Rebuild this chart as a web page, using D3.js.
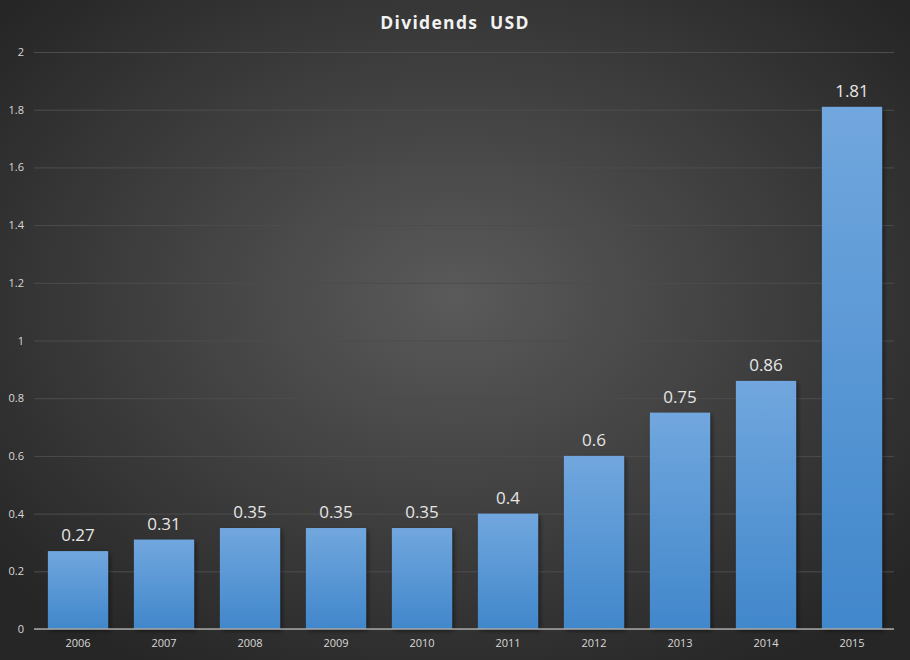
<!DOCTYPE html>
<html><head><meta charset="utf-8">
<script src="https://cdn.jsdelivr.net/npm/d3@7"></script>
<style>body{margin:0;background:#262626;}svg{display:block;}</style>
</head><body>
<script>
const years = ["2006","2007","2008","2009","2010","2011","2012","2013","2014","2015"];
const dividends = [0.27,0.31,0.35,0.35,0.35,0.4,0.6,0.75,0.86,1.81];
const yTicks = [0,0.2,0.4,0.6,0.8,1,1.2,1.4,1.6,1.8,2];

const W=910,H=660;
const svg=d3.select("body").append("svg").attr("width",W).attr("height",H);
const defs=svg.append("defs");
const rg=defs.append("radialGradient").attr("id","bg").attr("cx","50%").attr("cy","45%").attr("r","65%");
rg.append("stop").attr("offset","0%").attr("stop-color","#5a5a5a");
rg.append("stop").attr("offset","100%").attr("stop-color","#262626");
const lg=defs.append("linearGradient").attr("id","bar").attr("x1",0).attr("y1",0).attr("x2",0).attr("y2",1);
lg.append("stop").attr("offset","0%").attr("stop-color","#71a7de");
lg.append("stop").attr("offset","100%").attr("stop-color","#4187cb");
const f=defs.append("filter").attr("id","sh").attr("x","-20%").attr("y","-20%").attr("width","140%").attr("height","140%");
f.append("feDropShadow").attr("dx",2).attr("dy",2).attr("stdDeviation",2).attr("flood-color","#000").attr("flood-opacity",0.45);

svg.append("rect").attr("width",W).attr("height",H).attr("fill","url(#bg)");

const x=d3.scaleBand().domain(years).range([35,895]).paddingInner(0.3).paddingOuter(0.15);
const y=d3.scaleLinear().domain([0,2]).range([629,52]);

svg.append("text").attr("x",455).attr("y",29).attr("text-anchor","middle")
  .style("white-space","pre")
  .attr("font-family","Open Sans, sans-serif").attr("font-weight","bold").attr("font-size",17.5)
  .attr("letter-spacing","1.3").attr("fill","#f2f2f2").text("Dividends  USD");

const yAxis=svg.append("g").attr("transform","translate(34,0)")
  .call(d3.axisLeft(y).tickValues(yTicks).tickSize(-860).tickFormat(d=>String(+d.toFixed(1))).tickPadding(10));
yAxis.select(".domain").remove();
yAxis.selectAll(".tick line").attr("stroke","#4d4d4d").attr("stroke-width",1);
yAxis.selectAll(".tick text").attr("fill","#d9d9d9").attr("font-family","Open Sans, sans-serif").attr("font-size",11);

svg.append("g").selectAll("rect").data(years).join("rect")
  .attr("x",d=>x(d)).attr("width",x.bandwidth())
  .attr("y",(d,i)=>y(dividends[i])).attr("height",(d,i)=>y(0)-y(dividends[i]))
  .attr("fill","url(#bar)").attr("filter","url(#sh)");

const xAxis=svg.append("g").attr("transform","translate(0,629)")
  .call(d3.axisBottom(x).tickSize(0).tickPadding(10));
xAxis.select(".domain").attr("stroke","#a6a6a6").attr("stroke-width",1.5).attr("d","M34,0H894");
xAxis.selectAll(".tick text").attr("fill","#d9d9d9").attr("font-family","Open Sans, sans-serif").attr("font-size",11);

svg.append("g").selectAll("text").data(years).join("text")
  .attr("x",d=>x(d)+x.bandwidth()/2).attr("y",(d,i)=>y(dividends[i])-10)
  .attr("text-anchor","middle").attr("fill","#e6e6e6")
  .attr("font-family","Open Sans, sans-serif").attr("font-size",17)
  .text((d,i)=>String(dividends[i]));
</script>
</body></html>
